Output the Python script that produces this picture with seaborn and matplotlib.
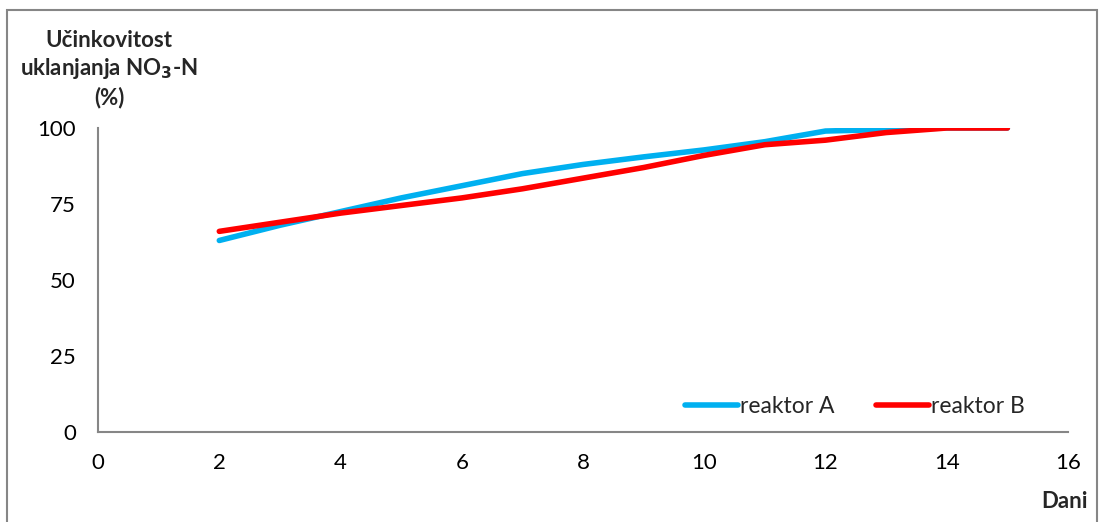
import pandas as pd
import seaborn as sns
import matplotlib.pyplot as plt
from matplotlib.patches import Rectangle

# Podaci ocitani s grafikona
dani = [2, 3, 4, 5, 6, 7, 8, 9, 10, 11, 12, 13, 14, 15]
reaktor_a = [63, 68, 72.5, 77, 81, 85, 88, 90.5, 92.8, 95.5, 99, 99.5, 100, 100]
reaktor_b = [66, 69, 72, 74.5, 77, 80, 83.5, 87, 91, 94.5, 96, 98.5, 100, 100]
serije = ["reaktor A", "reaktor B"]
boje = ["#00B0F0", "#FF0000"]

df = pd.DataFrame({
    "Dani": dani * 2,
    "vrijednost": reaktor_a + reaktor_b,
    "serija": [serije[0]] * len(dani) + [serije[1]] * len(dani),
})

sns.set_style("white")
plt.rcParams["font.family"] = ["Lato", "DejaVu Sans"]

fig = plt.figure(figsize=(11.03, 5.22), dpi=100)
ax = fig.add_axes([0.0889, 0.1724, 0.8794, 0.5824])

sns.lineplot(data=df, x="Dani", y="vrijednost", hue="serija",
             palette=boje, linewidth=4, ax=ax, legend=False,
             solid_capstyle="round")

ax.set_xlim(0, 16)
ax.set_ylim(0, 100)
ax.set_xticks(range(0, 17, 2))
ax.set_yticks([0, 25, 50, 75, 100])
ax.set_xlabel("")
ax.set_ylabel("")

grey = "#868686"
for s in ["top", "right"]:
    ax.spines[s].set_visible(False)
for s in ["left", "bottom"]:
    ax.spines[s].set_color(grey)
    ax.spines[s].set_linewidth(1.5)
ax.tick_params(axis="both", direction="out", length=7, width=1.5,
               color=grey, labelsize=16, labelcolor="black")
ax.tick_params(axis="y", pad=9)
ax.tick_params(axis="x", pad=8)

handles = [plt.Line2D([], [], color=c, lw=4, solid_capstyle="round") for c in boje]
ax.legend(handles, serije, loc="center right", bbox_to_anchor=(0.965, 0.083),
          ncol=2, frameon=False, fontsize=16.5, handlelength=2.3,
          handletextpad=0.1, columnspacing=1.8, borderaxespad=0)

# Naslov osi y i oznaka osi x
fig.text(109 / 1103, 1 - 69 / 522,
         "Učinkovitost\nuklanjanja NO$_\\mathbf{3}$-N\n(%)",
         ha="center", va="center", fontsize=16, fontweight="bold",
         linespacing=1.3)
fig.text(1088 / 1103, 1 - 502 / 522, "Dani", ha="right", va="center",
         fontsize=16, fontweight="bold")

# Okvir grafikona
fig.patches.append(Rectangle((7 / 1103, -0.05), 1090 / 1103, 1.05 - 10 / 522,
                             transform=fig.transFigure, fill=False,
                             edgecolor=grey, linewidth=1.5))

fig.savefig("out.png", dpi=100)
